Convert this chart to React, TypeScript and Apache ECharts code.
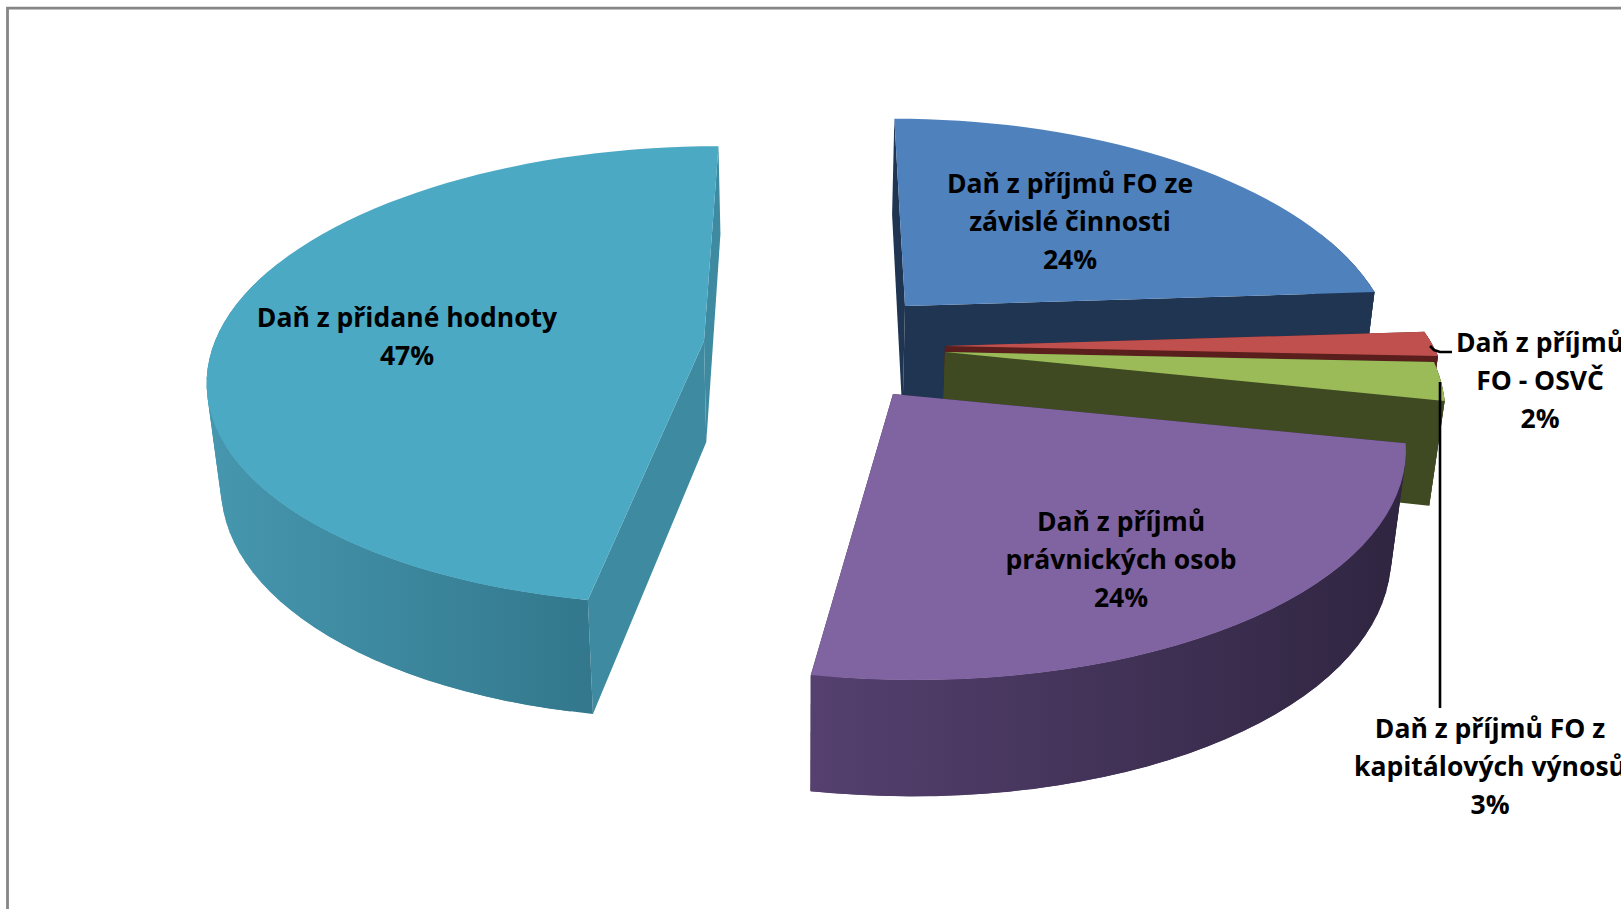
import React, { useEffect, useRef } from "react";
import * as echarts from "echarts";

const categories = [
  "Daň z příjmů FO ze\nzávislé činnosti",
  "Daň z příjmů\nFO - OSVČ",
  "Daň z příjmů FO z\nkapitálových výnosů",
  "Daň z příjmů\nprávnických osob",
  "Daň z přidané hodnoty",
];
// Shares; the labels show them rounded.
const values = [24, 1.7, 2.6, 24.4, 47.3];
const topColors = ["#4F81BD", "#C0504D", "#9BBB59", "#8064A2", "#4BA9C4"];
const wallColors = ["#1F3552", "#5A1F1D", "#3F4A22", "#33283F", "#3E8AA1"];
const rimStops = [
  ["#1F3552", "#1F3552"],
  ["#5A1F1D", "#5A1F1D"],
  ["#3F4A22", "#3F4A22"],
  ["#55406F", "#2F2540"],
  ["#4697AF", "#2C6D80"],
];
// Exploded-slice layout: apex position, radii, perspective strength, thickness
const apexX = [905, 945, 945, 893, 704];
const apexY = [306, 346, 352, 394, 341];
const radiusX = [477, 488, 484, 499, 489];
const radiusY = [224, 228, 228, 230, 224];
const perspective = [0.196, 0.196, 0.196, 0.196, 0.15];
const thickness = [110, 105, 102, 103, 101];
const vanishX = [840, 800, 800, 800, 815];
const labelX = [1070, 1540, 1490, 1121, 407];
const labelY = [221, 380, 766, 559, 336];
const leaders: number[][][] = [
  [],
  [[1430, 346], [1434, 350], [1440, 352], [1452, 352]],
  [[1440, 382], [1440, 708]],
  [],
  [],
];
const total = values.reduce((a, b) => a + b, 0);

function renderSlice(params: any, api: any) {
  const i = params.dataIndex;
  const val = api.value(0);
  let before = 0;
  for (let j = 0; j < i; j++) before += values[j];
  const a0 = (before / total) * 2 * Math.PI;
  const a1 = ((before + val) / total) * 2 * Math.PI;
  const ax = apexX[i], ay = apexY[i], k = perspective[i], vx = vanishX[i];

  const top = (t: number): number[] => {
    const X = Math.sin(t), Y = -Math.cos(t), w = 1 - k * Y;
    return [
      vx + (ax - vx) / w + (radiusX[i] * X) / w,
      ay + (radiusY[i] * Y) / w,
    ];
  };
  const bottomOf = (t: number): number[] => {
    const p = top(t);
    return [p[0] + (800 - p[0]) * 0.024, p[1] + thickness[i] * (1 - 0.13 * Math.cos(t))];
  };
  const apexBottom = [ax + (800 - ax) * 0.024, ay + thickness[i]];
  const n = Math.max(6, Math.ceil((a1 - a0) * 24));
  const arc: number[][] = [], arcB: number[][] = [], angles: number[] = [];
  for (let s = 0; s <= n; s++) {
    const t = a0 + ((a1 - a0) * s) / n;
    angles.push(t);
    arc.push(top(t));
    arcB.push(bottomOf(t));
  }
  const apex = [ax, ay];
  const poly = (points: number[][], fill: any) => ({
    type: "polygon",
    shape: { points },
    style: { fill, stroke: null },
    silent: true,
  });
  const xs = [...arc, ...arcB].map((p) => p[0]);
  const rim = {
    type: "linear", x: Math.min(...xs), y: 0, x2: Math.max(...xs), y2: 0, global: true,
    colorStops: [
      { offset: 0, color: rimStops[i][0] },
      { offset: 1, color: rimStops[i][1] },
    ],
  };
  const children: any[] = [
    poly([apex, arc[0], arcB[0], apexBottom], wallColors[i]),
    poly([apex, arc[n], arcB[n], apexBottom], wallColors[i]),
  ];
  // Rim as overlapping quads, so the ribbon's fold at the side is filled;
  // the far part of the rim faces away from the viewer and is left out.
  for (let s = 0; s < n; s++) {
    const e = Math.min(n, s + 2);
    if (Math.cos(angles[s]) > 0.3 && Math.cos(angles[e]) > 0.3) continue;
    children.push(poly([arc[s], arc[e], arcB[e], arcB[s]], rim));
  }
  children.push(poly([apex, ...arc], topColors[i]));
  if (leaders[i].length) {
    children.push({
      type: "polyline",
      shape: { points: leaders[i] },
      style: { stroke: "#000", lineWidth: 2.6, fill: null },
      silent: true,
    });
  }
  children.push({
    type: "text",
    x: labelX[i],
    y: labelY[i],
    style: {
      text: `${categories[i]}\n${Math.round(val)}%`,
      fill: "#000",
      font: 'bold 26.5px "Open Sans"',
      lineHeight: 38,
      align: "center",
      verticalAlign: "middle",
    },
    silent: true,
  });
  return { type: "group", children };
}

export default function App() {
  const ref = useRef<HTMLDivElement>(null);
  useEffect(() => {
    document.body.style.margin = "0";
    const chart = echarts.init(ref.current!, undefined, { renderer: "svg" });
    chart.setOption({
      animation: false,
      backgroundColor: "#FFFFFF",
      graphic: [
        {
          type: "rect",
          shape: { x: 7.5, y: 8.2, width: 1800, height: 1100 },
          style: { fill: "none", stroke: "#868686", lineWidth: 2.8 },
          silent: true,
          z: 0,
        },
      ],
      series: [
        {
          type: "custom",
          coordinateSystem: "none",
          renderItem: renderSlice,
          data: values.map((v) => [v]),
          z: 2,
        },
      ],
    });
    return () => chart.dispose();
  }, []);
  return <div ref={ref} style={{ position: "absolute", left: 0, top: 0, width: 1621, height: 909 }} />;
}
